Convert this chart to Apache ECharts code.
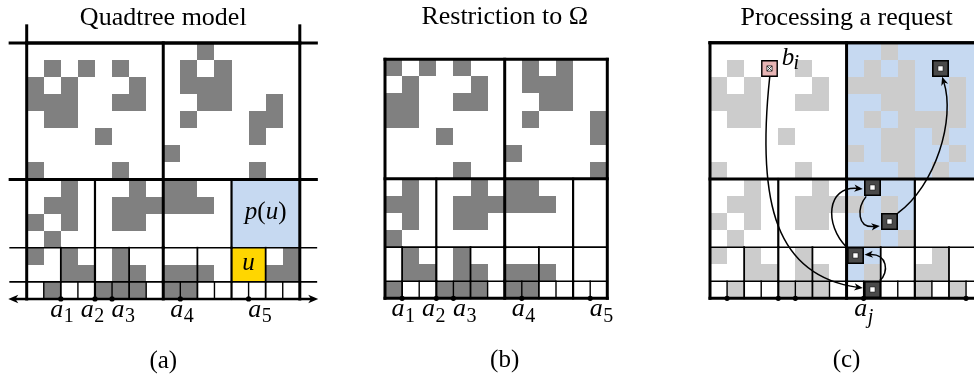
<!DOCTYPE html>
<html><head><meta charset="utf-8">
<script src="https://cdn.jsdelivr.net/npm/echarts@6/dist/echarts.min.js"></script>
<style>html,body{margin:0;padding:0;background:#fff}#c{width:974px;height:378px}</style>
</head><body><div id="c"></div>
<script>
// ---------------- data ----------------
const panelTitles = ['Quadtree model', 'Restriction to \u03A9', 'Processing a request'];
const panelCaptions = ['(a)', '(b)', '(c)'];
// occupied unit cells: for each row y = 0..14, the occupied columns
const grayColsA = [
  [1,4,5,6,8,9],
  [2,3,5,6,8,9,10,14,15],
  [0,2,5,15],
  [1],
  [0,2,5,6],
  [1,2,5,6,7,8,9,10],
  [2,6,8,9],
  [0,5,13],
  [8],
  [4,13],
  [1,2,9,13,14],
  [0,1,2,5,6,10,11,14],
  [0,2,6,9,10,11],
  [1,3,5,9,11],
  [10]
];
const grayColsC = [
  [1,4,5,6,12,14],
  [2,3,5,6,9,12,13],
  [0,2,5,13],
  [1,9,11],
  [0,2,5,6],
  [1,2,5,6,7,8,10],
  [2,6],
  [0,5,11,13],
  [8,10,11,14],
  [4,10,11,13],
  [1,2,9,11,12,13,14],
  [0,1,2,5,6,10,11,14],
  [0,2,6,8,9,10,11,14],
  [1,3,5,9,11],
  [10]
];
// quadtree levels: [bottom row, top row, cell size]
const levelBands = [[7,15,8],[3,7,4],[1,3,2],[0,1,1]];
// request points on the line
const pointsA = [2,4,5,9,13];
const pointSubsA = ['1','2','3','4','5'];
const pointsC = [1,4,5,9,15];
const requestPointC = 9;
const requestSubC = 'j';
// highlighted quadtree cells [x1, y1, x2, y2]
const parentCellA = [[12,3,16,7]];
const childCellA = [[12,1,14,3]];
const pathCellsC = [[8,7,16,15],[8,3,12,7],[8,1,10,3],[9,0,10,1]];
// unit cells visited while processing the request
const visitedCellsC = [[13,13],[9,6],[10,4],[8,2],[9,0]];
const requestCellC = [[3,13]];
// request arrows: start, control 1, control 2, end
const arrowsC = [
  [[3.5,13.0],[2.7,5.5],[3.9,1.3],[8.95,0.6]],
  [[9.95,1.05],[10.5,1.5],[10.4,2.65],[9.05,2.55]],
  [[8.0,3.0],[6.7,4.3],[6.8,6.6],[8.95,6.42]],
  [[9.15,5.98],[8.6,5.3],[8.6,4.1],[9.95,4.25]],
  [[11.0,5.0],[13.2,6.6],[14.4,10.5],[13.6,13.0]]
];

// ---------------- styling ----------------
const FONT = '"Liberation Serif", "DejaVu Serif", serif';
const GRAY_DARK = '#808080', GRAY_LIGHT = '#cccccc', BLUE = '#c6d9f1',
      YELLOW = '#ffd600', PINK = '#e8b5b5', MARK = '#4a4a4a';
const labelDx = [2.5, -1.3, 12.5, 3, 12.6];

function rowsToCells(rows, x0, x1, y0, y1) {
  const out = [];
  rows.forEach((cols, y) => {
    if (y < y0 || y >= y1) return;
    cols.forEach(x => { if (x >= x0 && x < x1) out.push([x, y]); });
  });
  return out;
}
function rectPx(api, x1, y1, x2, y2) {
  const a = api.coord([x1, y2]), b = api.coord([x2, y1]);
  const L = Math.round(a[0]), T = Math.round(a[1]), R = Math.round(b[0]), B = Math.round(b[1]);
  return {x: L, y: T, width: R - L, height: B - T};
}
function lineWidthAt(x) { return x % 8 === 0 ? 3 : (x % 4 === 0 ? 2.2 : (x % 2 === 0 ? 1.8 : 1.4)); }
function quadSegments(x0, x1, yTop, ext, withBottom) {
  const segs = [];
  levelBands.forEach(([yb, yt, s]) => {
    const top = Math.min(yt, yTop);
    if (top <= yb) return;
    for (let x = 0; x <= 16; x += s) if (x > x0 && x < x1) segs.push([x, yb, x, top, lineWidthAt(x)]);
  });
  [15, 7, 3, 1].forEach(y => {
    if (y <= yTop) segs.push([x0 - ext, y, x1 + ext, y, (y === 15 || y === 7) ? 3 : 1.6]);
  });
  segs.push([x0, 0, x0, yTop, 3], [x1, 0, x1, yTop, 3], [x0, yTop, x1, yTop, 3]);
  if (withBottom) segs.push([x0, 0, x1, 0, 3]);
  return segs;
}
function base(gi) { return {type: 'custom', xAxisIndex: gi, yAxisIndex: gi, clip: false, silent: true, animation: false}; }
function cellSeries(gi, cells, fill) {
  return Object.assign(base(gi), {data: cells, renderItem: (p, api) => ({
    type: 'rect', shape: rectPx(api, api.value(0), api.value(1), api.value(0) + 1, api.value(1) + 1), style: {fill}})});
}
function rectSeries(gi, rects, fill) {
  return Object.assign(base(gi), {data: rects, renderItem: (p, api) => ({
    type: 'rect', shape: rectPx(api, api.value(0), api.value(1), api.value(2), api.value(3)), style: {fill}})});
}
function segSeries(gi, segs) {
  return Object.assign(base(gi), {data: segs, renderItem: (p, api) => {
    const a = api.coord([api.value(0), api.value(1)]), b = api.coord([api.value(2), api.value(3)]);
    return {type: 'line', shape: {x1: a[0], y1: a[1], x2: b[0], y2: b[1]},
            style: {stroke: '#000', lineWidth: api.value(4), lineCap: 'square', fill: 'none'}};
  }});
}
function head(tip, ux, uy, L, H) {
  const bx = tip[0] - ux * L, by = tip[1] - uy * L, nx = -uy, ny = ux;
  return [[tip[0], tip[1]], [bx + nx * H, by + ny * H], [tip[0] - ux * L * 0.72, tip[1] - uy * L * 0.72], [bx - nx * H, by - ny * H]];
}
function dotSeries(gi, xs) {
  return Object.assign(base(gi), {data: xs.map(x => [x, 0]), renderItem: (p, api) => {
    const c = api.coord([api.value(0), api.value(1)]);
    return {type: 'circle', shape: {cx: c[0], cy: c[1], r: 2.6}, style: {fill: '#000'}};
  }});
}
function textSeries(gi, items) {
  return Object.assign(base(gi), {data: items.map(t => t.pos), renderItem: (p, api) => {
    const t = items[p.dataIndex];
    const c = api.coord([api.value(0), api.value(1)]);
    const st = {text: t.text, font: t.font, fill: '#000', align: t.align || 'center', textAlign: t.align || 'center',
                verticalAlign: 'middle', textVerticalAlign: 'middle'};
    if (t.rich) st.rich = t.rich;
    return {type: 'text', x: c[0] + (t.dx || 0), y: c[1] + (t.dy || 0), style: st};
  }});
}
function pointLabels(xs, subs, dxs) {
  const out = [];
  xs.forEach((x, i) => {
    out.push({pos: [x, 0], dx: dxs[i], dy: 11.3, text: 'a', font: 'italic 26px ' + FONT, align: 'right'});
    out.push({pos: [x, 0], dx: dxs[i] + 0.5, dy: 18, text: subs[i], font: '20px ' + FONT, align: 'left'});
  });
  return out;
}

// ---------------- option ----------------
const series = [];
// panel (a)
series.push(cellSeries(0, rowsToCells(grayColsA, 0, 16, 0, 15), GRAY_DARK));
series.push(rectSeries(0, parentCellA, BLUE));
series.push(rectSeries(0, childCellA, YELLOW));
series.push(segSeries(0, quadSegments(0, 16, 15, 0.97, false).concat([[0, 15, 0, 16, 3], [16, 15, 16, 16, 3]])));
series.push(Object.assign(base(0), {data: [[-1.08, 0, 17.08, 0]], renderItem: (p, api) => {
  const a = api.coord([api.value(0), api.value(1)]), b = api.coord([api.value(2), api.value(3)]);
  return {type: 'group', children: [
    {type: 'line', shape: {x1: a[0] + 5, y1: a[1], x2: b[0] - 5, y2: b[1]}, style: {stroke: '#000', lineWidth: 2.6}},
    {type: 'polygon', shape: {points: head(a, -1, 0, 10, 4.2)}, style: {fill: '#000'}},
    {type: 'polygon', shape: {points: head(b, 1, 0, 10, 4.2)}, style: {fill: '#000'}}
  ]};
}}));
series.push(dotSeries(0, pointsA));
series.push(textSeries(0, [
  {pos: [8, 15], dy: -25, text: panelTitles[0], font: '26px ' + FONT},
  {pos: [8, 0], dy: 62, text: panelCaptions[0], font: '25px ' + FONT},
  {pos: [14, 5], dy: -1, text: '{i|p}{n|(}{i|u}{n|)}', font: '24px ' + FONT,
   rich: {i: {font: 'italic 25px ' + FONT}, n: {font: '25px ' + FONT}}},
  {pos: [13, 2], dy: -1.5, text: 'u', font: 'italic 25px ' + FONT}
].concat(pointLabels(pointsA, pointSubsA, labelDx))));

// panel (b)
series.push(cellSeries(1, rowsToCells(grayColsA, 1, 14, 0, 14), GRAY_DARK));
series.push(segSeries(1, quadSegments(1, 14, 14, 0, true)));
series.push(dotSeries(1, pointsA));
series.push(textSeries(1, [
  {pos: [8, 15], dy: -25, text: panelTitles[1], font: '26px ' + FONT},
  {pos: [8, 0], dy: 62, text: panelCaptions[1], font: '25px ' + FONT}
].concat(pointLabels(pointsA, pointSubsA, labelDx))));

// panel (c)
series.push(rectSeries(2, pathCellsC, BLUE));
series.push(cellSeries(2, rowsToCells(grayColsC, 0, 16, 0, 15), GRAY_LIGHT));
series.push(segSeries(2, quadSegments(0, 16, 15, 0, true)));
series.push(Object.assign(base(2), {data: visitedCellsC, renderItem: (p, api) => {
  const r = rectPx(api, api.value(0), api.value(1), api.value(0) + 1, api.value(1) + 1);
  const cx = r.x + r.width / 2, cy = r.y + r.height / 2;
  return {type: 'group', children: [
    {type: 'rect', shape: {x: r.x + 0.8, y: r.y + 0.8, width: r.width - 1.6, height: r.height - 1.6}, style: {fill: MARK, stroke: '#000', lineWidth: 1.6}},
    {type: 'rect', shape: {x: cx - 2.6, y: cy - 2.6, width: 5.2, height: 5.2}, style: {fill: '#fff', stroke: '#000', lineWidth: 0.6}}
  ]};
}}));
series.push(Object.assign(base(2), {data: requestCellC, renderItem: (p, api) => {
  const r = rectPx(api, api.value(0), api.value(1), api.value(0) + 1, api.value(1) + 1);
  const cx = r.x + r.width / 2, cy = r.y + r.height / 2, h = 2.6;
  return {type: 'group', children: [
    {type: 'rect', shape: {x: r.x + 0.8, y: r.y + 0.8, width: r.width - 1.6, height: r.height - 1.6}, style: {fill: PINK, stroke: '#000', lineWidth: 1.4}},
    {type: 'rect', shape: {x: cx - h, y: cy - h, width: 2 * h, height: 2 * h}, style: {fill: '#fff', stroke: '#000', lineWidth: 0.7}},
    {type: 'line', shape: {x1: cx - h, y1: cy - h, x2: cx + h, y2: cy + h}, style: {stroke: '#000', lineWidth: 0.7}},
    {type: 'line', shape: {x1: cx - h, y1: cy + h, x2: cx + h, y2: cy - h}, style: {stroke: '#000', lineWidth: 0.7}}
  ]};
}}));
series.push(Object.assign(base(2), {data: arrowsC.map(a => a.flat()), renderItem: (p, api) => {
  const P = [0, 1, 2, 3].map(k => api.coord([api.value(2 * k), api.value(2 * k + 1)]));
  const dx = P[3][0] - P[2][0], dy = P[3][1] - P[2][1], len = Math.hypot(dx, dy);
  const ux = dx / len, uy = dy / len, L = 8.5;
  return {type: 'group', children: [
    {type: 'bezierCurve', shape: {x1: P[0][0], y1: P[0][1], cpx1: P[1][0], cpy1: P[1][1], cpx2: P[2][0], cpy2: P[2][1],
      x2: P[3][0] - ux * L * 0.6, y2: P[3][1] - uy * L * 0.6}, style: {stroke: '#000', fill: 'none', lineWidth: 1.5}},
    {type: 'polygon', shape: {points: head(P[3], ux, uy, L, 3.6)}, style: {fill: '#000'}}
  ]};
}}));
series.push(dotSeries(2, pointsC));
series.push(textSeries(2, [
  {pos: [8, 15], dy: -25, text: panelTitles[2], font: '26px ' + FONT},
  {pos: [8, 0], dy: 62, text: panelCaptions[2], font: '25px ' + FONT},
  {pos: [requestPointC, 0], dx: 3.5, dy: 11.3, text: 'a', font: 'italic 26px ' + FONT, align: 'right'},
  {pos: [requestPointC, 0], dx: 4.2, dy: 19, text: requestSubC, font: 'italic 20px ' + FONT, align: 'left'},
  {pos: [requestCellC[0][0] + 1, requestCellC[0][1] + 1], dx: 3.4, dy: -1.8, text: 'b', font: 'italic 25px ' + FONT, align: 'left'},
  {pos: [requestCellC[0][0] + 1, requestCellC[0][1] + 1], dx: 15.3, dy: 3.6, text: 'i', font: 'italic 20px ' + FONT, align: 'left'}
]));

const axisCommon = {type: 'value', show: false, splitLine: {show: false}};
const option = {
  animation: false,
  backgroundColor: '#fff',
  grid: [
    {left: 26.7, top: 42.9, width: 273.1, height: 256.05, outerBoundsMode: 'none'},
    {left: 385, top: 59.3, width: 222.3, height: 239, outerBoundsMode: 'none'},
    {left: 710, top: 42.7, width: 256.05, height: 255.6, outerBoundsMode: 'none'}
  ],
  xAxis: [
    Object.assign({gridIndex: 0, min: 0, max: 16}, axisCommon),
    Object.assign({gridIndex: 1, min: 1, max: 14}, axisCommon),
    Object.assign({gridIndex: 2, min: 0, max: 15}, axisCommon)
  ],
  yAxis: [
    Object.assign({gridIndex: 0, min: 0, max: 15}, axisCommon),
    Object.assign({gridIndex: 1, min: 0, max: 14}, axisCommon),
    Object.assign({gridIndex: 2, min: 0, max: 15}, axisCommon)
  ],
  series
};
const chart = echarts.init(document.getElementById('c'), null, {renderer: 'canvas'});
chart.setOption(option);
</script>
</body></html>
